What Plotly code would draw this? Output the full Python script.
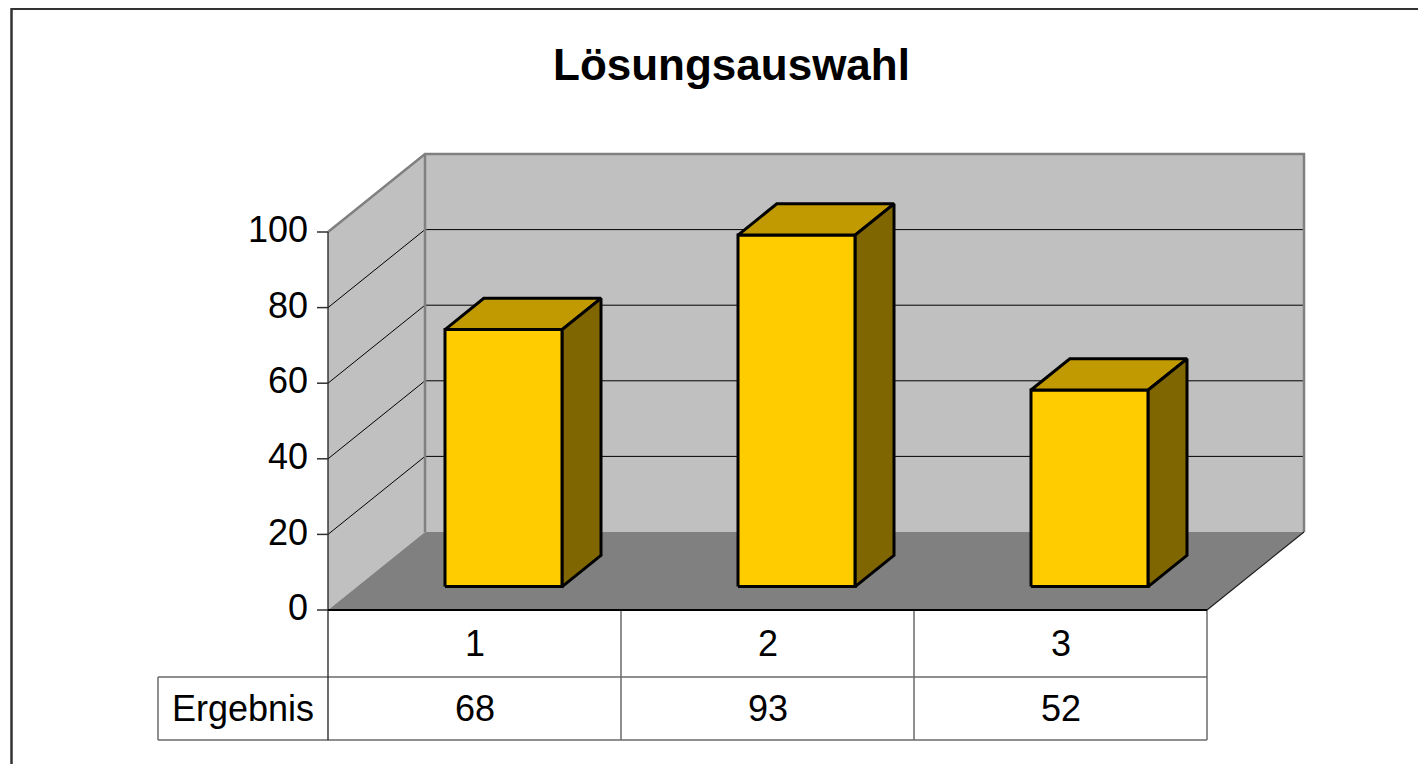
import plotly.graph_objects as go

# ---------------- data ----------------
title = "Lösungsauswahl"
categories = ["1", "2", "3"]
series_name = "Ergebnis"
values = [68, 93, 52]
y_ticks = [0, 20, 40, 60, 80, 100]
y_max = 100

# ---------------- geometry (screen-pixel calibration of the axes) ----------------
W, H = 1426, 764
PAGE_OFF = 8            # default body margin of the html page
X0, CAT = 328, 293      # screen pixel of category-axis origin, px per category
Y0, VAL = 610, 3.78     # screen pixel of value 0, px per value unit
DEPTH_X, DEPTH_Y = 97, 78
DX = DEPTH_X / CAT      # depth offset in category units
DY = DEPTH_Y / VAL      # depth offset in value units
BAR_W = 0.4
D0, D1 = 0.3, 0.7       # bar depth range

FONT = "Liberation Sans, Arial, sans-serif"


def px_x(p):
    return (p - X0) / CAT


def px_y(p):
    return (Y0 - p) / VAL


def P(c, v, d):
    return c + d * DX, v + d * DY


fig = go.Figure()


def poly(pts, fill, lc=None, lw=0):
    xs = [p[0] for p in pts] + [pts[0][0]]
    ys = [p[1] for p in pts] + [pts[0][1]]
    fig.add_trace(go.Scatter(
        x=xs, y=ys, mode="lines", fill="toself", fillcolor=fill,
        line=dict(color=lc if lc else fill, width=lw if lc else 0),
        hoverinfo="skip", showlegend=False))


def line(pts, color, width):
    fig.add_trace(go.Scatter(
        x=[p[0] for p in pts], y=[p[1] for p in pts], mode="lines",
        line=dict(color=color, width=width),
        hoverinfo="skip", showlegend=False))


n = len(categories)

# walls and floor
poly([P(0, 0, 1), P(n, 0, 1), P(n, y_max, 1), P(0, y_max, 1)], "#c0c0c0")
poly([P(0, 0, 0), P(0, 0, 1), P(0, y_max, 1), P(0, y_max, 0)], "#c0c0c0")
poly([P(0, 0, 0), P(n, 0, 0), P(n, 0, 1), P(0, 0, 1)], "#808080")

# gridlines
for t in y_ticks:
    if 0 < t < y_max:
        line([P(0, t, 0), P(0, t, 1), P(n, t, 1)], "#000000", 1)

# wall edges
line([P(0, y_max, 0), P(0, y_max, 1), P(n, y_max, 1), P(n, 0, 1)], "#808080", 2.5)
line([P(0, 0, 1), P(0, y_max, 1)], "#808080", 2.5)
line([P(n, 0, 0), P(n, 0, 1)], "#202020", 1.2)

# bars
for i, v in enumerate(values):
    c0 = i + 0.5 - BAR_W / 2
    c1 = i + 0.5 + BAR_W / 2
    poly([P(c0, 0, D0), P(c1, 0, D0), P(c1, v, D0), P(c0, v, D0)], "#ffcc00", "#000000", 3)
    poly([P(c0, v, D0), P(c1, v, D0), P(c1, v, D1), P(c0, v, D1)], "#c09a00", "#000000", 3)
    poly([P(c1, 0, D0), P(c1, 0, D1), P(c1, v, D1), P(c1, v, D0)], "#806600", "#000000", 3)

# table
row1 = px_y(677)
row2 = px_y(740)
left_cell = px_x(158)
tcol = "#6a6a6a"
line([(left_cell, row1), (n, row1)], tcol, 1.5)
line([(left_cell, row2), (n, row2)], tcol, 1.5)
line([(left_cell, row1), (left_cell, row2)], tcol, 1.5)
for c in range(1, n + 1):
    line([(c, 0), (c, row2)], tcol, 1.5)
line([(0, y_max), (0, row2)], "#202020", 1.3)
line([(0, 0), (n, 0)], "#000000", 2)

# ticks
for t in y_ticks:
    line([(px_x(317), t), (0, t)], "#303030", 1.5)

TXT = dict(family=FONT, size=36, color="#000000")
annotations = []
for t in y_ticks:
    annotations.append(dict(x=px_x(310), y=t + 0.6, text=str(t), showarrow=False,
                            xanchor="right", yanchor="middle", font=TXT))
for i, c in enumerate(categories):
    annotations.append(dict(x=i + 0.5, y=(0 + row1) / 2, text=c, showarrow=False,
                            xanchor="center", yanchor="middle", font=TXT))
    annotations.append(dict(x=i + 0.5, y=(row1 + row2) / 2, text=str(values[i]),
                            showarrow=False, xanchor="center", yanchor="middle", font=TXT))
annotations.append(dict(x=(left_cell + 0) / 2, y=(row1 + row2) / 2, text=series_name,
                        showarrow=False, xanchor="center", yanchor="middle", font=TXT))
annotations.append(dict(x=px_x(731), y=px_y(64), text=title, showarrow=False,
                        xanchor="center", yanchor="middle",
                        font=dict(family=FONT, size=44, color="#000000", weight="bold")))

fig.update_layout(
    width=W, height=H, autosize=False,
    margin=dict(l=0, r=0, t=0, b=0, pad=0),
    paper_bgcolor="#ffffff", plot_bgcolor="#ffffff",
    xaxis=dict(range=[px_x(PAGE_OFF), px_x(PAGE_OFF + W)], visible=False, fixedrange=True),
    yaxis=dict(range=[px_y(PAGE_OFF + H), px_y(PAGE_OFF)], visible=False, fixedrange=True),
    showlegend=False,
    annotations=annotations,
    shapes=[dict(type="rect", xref="paper", yref="paper",
                 x0=(11.5 - PAGE_OFF) / W, x1=1.02, y0=-0.02,
                 y1=1 - (8.8 - PAGE_OFF) / H,
                 line=dict(color="#333333", width=2.5), layer="above")],
)

fig.write_html("out.html", config={"displayModeBar": False})
